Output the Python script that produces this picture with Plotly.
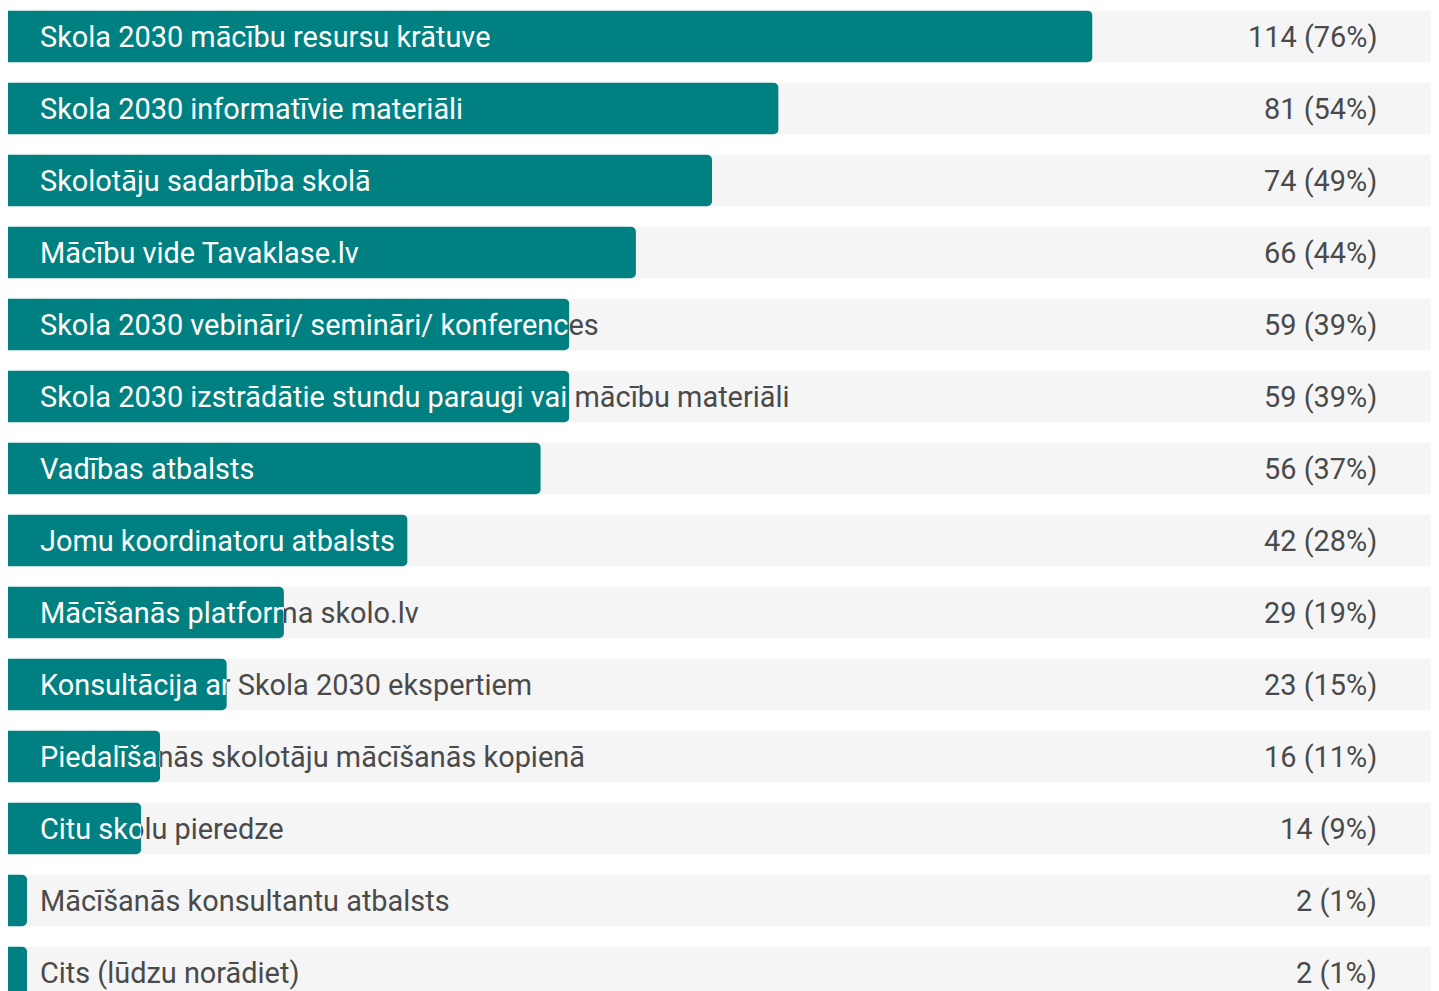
import plotly.graph_objects as go

labels = [
    "Skola 2030 mācību resursu krātuve",
    "Skola 2030 informatīvie materiāli",
    "Skolotāju sadarbība skolā",
    "Mācību vide Tavaklase.lv",
    "Skola 2030 vebināri/ semināri/ konferences",
    "Skola 2030 izstrādātie stundu paraugi vai mācību materiāli",
    "Vadības atbalsts",
    "Jomu koordinatoru atbalsts",
    "Mācīšanās platforma skolo.lv",
    "Konsultācija ar Skola 2030 ekspertiem",
    "Piedalīšanās skolotāju mācīšanās kopienā",
    "Citu skolu pieredze",
    "Mācīšanās konsultantu atbalsts",
    "Cits (lūdzu norādiet)",
]
counts = [114, 81, 74, 66, 59, 59, 56, 42, 29, 23, 16, 14, 2, 2]
total = 150

# page body has an 8px margin; the figure starts at (8, 8)
W, H = 1427, 983
plot_w = W
px_per_unit = plot_w / total
ROW = 72.0
first_center = 28.5
bar_w = 51.5 / ROW
label_dx = 32 / px_per_unit
text_dy = 3.2 / ROW

TEAL = "#008080"
TRACK = "#f5f5f5"
DARK = "#4a4a4a"
FONT = "Roboto"
FS = 28.9

n = len(labels)
ys = list(range(n))
y_range = [(H - first_center) / ROW, -first_center / ROW]

fig = go.Figure()

# background tracks
fig.add_trace(go.Bar(
    x=[total] * n, y=ys, orientation="h", width=bar_w,
    marker=dict(color=TRACK, line=dict(width=0)),
    hoverinfo="skip", showlegend=False, xaxis="x", yaxis="y",
))
# dark labels (under the teal bars)
fig.add_trace(go.Scatter(
    x=[label_dx] * n, y=[y + text_dy for y in ys], mode="text",
    text=labels, textposition="middle right",
    textfont=dict(family=FONT, size=FS, color=DARK),
    hoverinfo="skip", showlegend=False, cliponaxis=True, xaxis="x", yaxis="y",
))

layout_axes = {}
for i, (lab, c) in enumerate(zip(labels, counts)):
    ax = f"x{i + 2}"
    fig.add_trace(go.Bar(
        x=[c], y=[i], orientation="h", width=bar_w,
        marker=dict(color=TEAL, line=dict(width=0)),
        hoverinfo="skip", showlegend=False, xaxis=ax, yaxis="y",
    ))
    fig.add_trace(go.Scatter(
        x=[label_dx], y=[i + text_dy], mode="text",
        text=[lab], textposition="middle right",
        textfont=dict(family=FONT, size=FS, color="white"),
        hoverinfo="skip", showlegend=False, cliponaxis=True, xaxis=ax, yaxis="y",
    ))
    layout_axes[f"xaxis{i + 2}"] = dict(
        domain=[0, c / total], range=[0, c], anchor="y",
        visible=False, fixedrange=True,
    )

annotations = []
for i, c in enumerate(counts):
    pct = round(c / total * 100)
    annotations.append(dict(
        x=total, y=i, xref="x", yref="y", text=f"{c} ({pct}%)",
        xanchor="right", yanchor="middle", xshift=-56, showarrow=False,
        font=dict(family=FONT, size=FS, color=DARK),
    ))

fig.update_layout(
    width=W, height=H,
    margin=dict(l=0, r=0, t=0, b=0, pad=0),
    paper_bgcolor="white", plot_bgcolor="rgba(0,0,0,0)",
    barcornerradius=5,
    xaxis=dict(domain=[0, 1], range=[0, total], visible=False, fixedrange=True),
    yaxis=dict(range=y_range, visible=False, fixedrange=True),
    annotations=annotations,
    showlegend=False,
    **layout_axes,
)

fig.write_html("out.html", config={"displayModeBar": False})
